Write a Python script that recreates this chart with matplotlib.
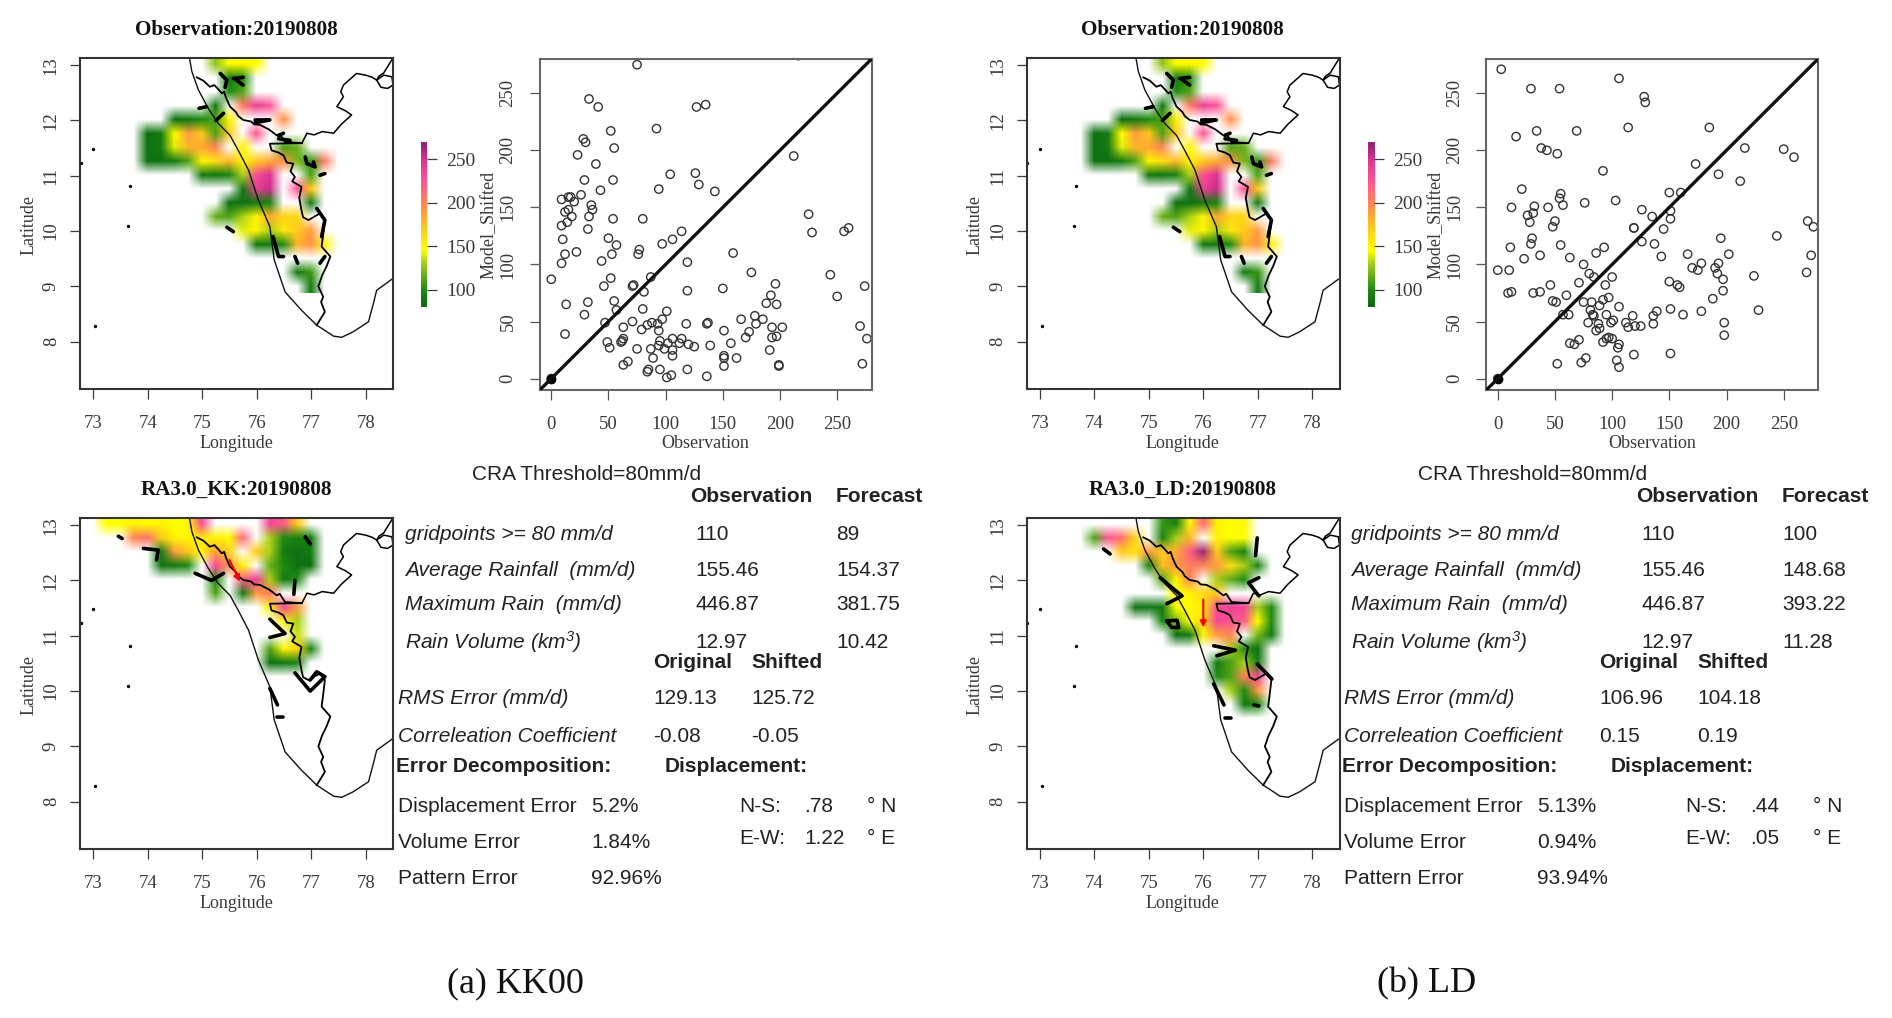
import numpy as np
import matplotlib
matplotlib.use('Agg')
import matplotlib.pyplot as plt
from matplotlib.colors import LinearSegmentedColormap

W, H = 1892, 1018
plt.rcParams['font.family'] = ['Liberation Serif', 'DejaVu Serif']
plt.rcParams['mathtext.default'] = 'regular'

lon_ticks = [73, 74, 75, 76, 77, 78]
lat_ticks = [8, 9, 10, 11, 12, 13]
scatter_ticks = [0, 50, 100, 150, 200, 250]
cbar_ticks = [100, 150, 200, 250]

# rainfall blobs, each row is (lat, first lon, values every 0.25 deg)
n = None
obs_rows = [
 (13.0, 75.25, [125, 145, 148, 145]),
 (12.75, 75.5, [90, 100]),
 (12.5, 75.5, [100, 112]),
 (12.25, 75.25, [90, n, 205, 240, 225]),
 (12.0, 74.5, [85, 90, 100, 110, 150, n, n, n, 195]),
 (11.75, 74.0, [85, 90, 145, 190, 170, 110, 170, n, 225]),
 (11.5, 74.0, [85, 90, 140, 180, 185, 200, n, 150, n, n, 110, 115]),
 (11.25, 74.0, [85, 85, 90, 110, 150, 160, 180, 150, 170, 185, 195, 120, 105, 205]),
 (11.0, 75.0, [90, 88, 95, 130, 230, 250, n, n, 110]),
 (10.75, 75.75, [90, 240, 255, n, 225, 170]),
 (10.5, 75.5, [85, 85, 90, 95, n, n, 90]),
 (10.25, 75.25, [115, 110, 130, 150, 185, 165, 165]),
 (10.0, 75.75, [140, 150, 130, 155, 170, 190]),
 (9.75, 76.0, [90, 90, 100, 180, 195, 150]),
 (9.25, 76.75, [90, 105]),
 (9.0, 77.0, [90]),
]
kk_rows = [
 (13.0, 73.25, [145, 145, 150, 145, 150, 145, 148, 230, n, n, n, n, 235, 220, 170]),
 (12.75, 73.75, [200, 210, 170, 150, 150, 155, 150, 148, 215, n, 130, 100, 95, 90]),
 (12.5, 74.25, [90, 190, 170, 150, 190, 165, n, 170, 130, 90, 85, 90]),
 (12.25, 74.25, [88, 90, 100, n, 230, 195, 150, n, 115, 100, 85, 85]),
 (12.0, 75.25, [100, n, 220, 240, 130, 90, 100]),
 (11.75, 75.25, [110, n, 90, 190, 205]),
 (11.5, 76.25, [150, 235, 190]),
 (11.25, 76.5, [150, 130]),
 (11.0, 76.75, [135]),
 (10.75, 76.25, [110, 150, 165, 95]),
 (10.5, 76.25, [85, 88, 95]),
]
ld_rows = [
 (13.0, 75.25, [105, 95, 150, 215, 150, 145, 148]),
 (12.75, 74.0, [110, 225, 210, 165, n, 95, 130, 180, n, 150, 145, 145]),
 (12.5, 74.5, [170, 160, 190, 170, 185, 220, 265, 170, 110, 95]),
 (12.25, 75.0, [95, 175, 190, 205, 200, 190, 160, 130, 95]),
 (12.0, 75.25, [110, 150, 200, n, 130, 115, 100]),
 (11.75, 75.5, [145, 150, 165, 170]),
 (11.5, 74.75, [85, 88, 90, 145, 148, 150, 230, 240, 235, 130, 100]),
 (11.25, 75.25, [95, 120, 145, 165, 235, 225, 220, 145, 100]),
 (11.0, 75.5, [85, 90, 150, 190, 200, n, 120, 90]),
 (10.75, 76.5, [130, 100, 85]),
 (10.5, 76.25, [90, 110, 130, 90]),
 (10.25, 76.25, [100, 110, 200, 235]),
 (10.0, 76.5, [130, 100, 190]),
 (9.75, 76.75, [90, 100]),
]

coast_lon = [74.77, 74.81, 74.93, 75.11, 75.29, 75.51, 75.66, 75.85, 76.03, 76.24, 76.32, 76.52, 76.82, 77.10, 77.41, 77.56, 77.77, 78.05, 78.14, 78.20, 78.48]
coast_lat = [13.10, 12.88, 12.55, 12.22, 11.95, 11.73, 11.46, 11.10, 10.56, 10.08, 9.48, 8.90, 8.57, 8.30, 8.10, 8.08, 8.18, 8.36, 8.69, 8.93, 9.13]
border_lon = [74.90, 75.02, 75.14, 75.22, 75.28, 75.36, 75.40, 75.44, 75.51, 75.62, 75.66, 75.75, 75.90, 75.95, 76.06, 76.16, 76.22, 76.37, 76.42, 76.52, 76.83, 76.24, 76.27, 76.40, 76.49, 76.55, 76.67, 76.62, 76.70, 76.65, 76.82, 76.78, 76.82, 76.85, 76.95, 77.16, 77.25, 77.22, 77.19, 77.35, 77.28, 77.20, 77.13, 77.22, 77.18, 77.25, 77.10]
border_lat = [12.78, 12.72, 12.61, 12.64, 12.58, 12.49, 12.52, 12.40, 12.25, 12.15, 12.08, 12.01, 11.98, 11.93, 11.92, 11.87, 11.84, 11.73, 11.76, 11.61, 11.59, 11.58, 11.46, 11.42, 11.37, 11.24, 11.22, 11.08, 10.98, 10.90, 10.80, 10.60, 10.38, 10.25, 10.20, 10.32, 10.20, 9.95, 9.72, 9.54, 9.36, 9.20, 9.00, 8.81, 8.72, 8.54, 8.30]
tn_lon = [76.83, 76.92, 77.05, 77.20, 77.41, 77.55, 77.74, 77.62, 77.47, 77.59, 77.54, 77.59, 77.83, 78.00, 78.12, 78.20, 78.33, 78.48, 78.50, 78.40, 78.28, 78.20, 78.24, 78.33, 78.48]
tn_lat = [11.59, 11.77, 11.74, 11.80, 11.77, 11.93, 12.10, 12.18, 12.25, 12.43, 12.52, 12.64, 12.85, 12.82, 12.78, 12.73, 12.82, 12.79, 12.64, 12.58, 12.60, 12.73, 12.80, 12.86, 13.10]
island_lon = [73.0, 73.67, 73.63, 73.04, 72.77]
island_lat = [11.48, 10.81, 10.09, 8.28, 11.24]

# thick contour pieces on each map
obs_pieces = [
 [(75.33, 12.85), (75.45, 12.73), (75.42, 12.60)],
 [(75.57, 12.76), (75.75, 12.78)],
 [(75.60, 12.75), (75.75, 12.64)],
 [(74.94, 12.22), (75.08, 12.25)],
 [(75.97, 12.01), (76.24, 12.01), (75.97, 11.96)],
 [(76.40, 11.73), (76.49, 11.77)],
 [(76.40, 11.67), (76.61, 11.64)],
 [(76.89, 11.34), (76.92, 11.22), (77.07, 11.16), (77.04, 11.25)],
 [(77.16, 11.01), (77.25, 11.04)],
 [(75.45, 10.07), (75.57, 9.99)],
 [(76.70, 9.54), (76.75, 9.42)],
 [(77.10, 10.41), (77.25, 10.20), (77.19, 9.90)],
 [(77.16, 9.42), (77.25, 9.54)],
 [(75.25, 12.0), (75.39, 12.13)],
 [(76.30, 9.90), (76.40, 9.54), (76.49, 9.54)],
]
kk_pieces = [
 [(73.46, 12.80), (73.53, 12.76)],
 [(73.92, 12.58), (74.19, 12.55), (74.16, 12.37)],
 [(74.87, 12.13), (75.17, 12.0), (75.39, 12.13)],
 [(76.70, 12.0), (76.68, 11.75)],
 [(76.89, 12.79), (76.98, 12.66)],
 [(76.24, 11.30), (76.52, 11.04), (76.24, 10.97)],
 [(76.70, 10.33), (76.98, 10.0), (77.25, 10.26), (77.10, 10.35), (76.98, 10.2)],
 [(76.24, 10.05), (76.38, 9.75)],
 [(76.38, 9.54), (76.49, 9.54)],
]
ld_pieces = [
 [(74.17, 12.57), (74.29, 12.48)],
 [(75.21, 12.05), (75.61, 11.72), (75.33, 11.58)],
 [(75.33, 11.27), (75.52, 11.28), (75.55, 11.15), (75.42, 11.15), (75.33, 11.27)],
 [(76.19, 10.82), (76.59, 10.74), (76.25, 10.64)],
 [(76.99, 10.49), (77.26, 10.22)],
 [(76.99, 12.77), (76.96, 12.45)],
 [(77.02, 12.05), (76.83, 11.96), (77.02, 11.72)],
 [(76.93, 9.75), (77.02, 9.73)],
 [(76.19, 10.13), (76.38, 9.75)],
 [(76.40, 9.52), (76.50, 9.52)],
]
kk_arrow = [(75.50, 12.37), (75.69, 11.98)]
ld_arrow = [(76.0, 11.66), (76.0, 11.15)]

obs_kk = [75,33,41,127,135,92,52,28,30,55,23,39,212,104,126,129,29,54,43,94,143,9,15,17,26,20,35,12,15,36,33,18,14,9,54,80,32,10,50,57,114,106,97,225,228,256,260,22,12,9,53,44,77,76,119,159,0,52,46,72,71,87,81,119,150,175,196,244,274,250,192,188,197,13,32,55,57,29,80,101,97,47,71,63,88,84,79,93,94,118,137,136,166,178,185,179,151,173,170,193,202,193,197,270,276,12,49,51,63,61,62,75,87,95,94,99,102,106,106,112,114,120,125,139,157,89,106,151,151,151,162,191,199,199,272,67,63,85,84,95,119,101,105,136,0,216]
mod_kk = [275,245,238,238,240,219,217,210,207,202,196,188,195,179,180,170,174,174,165,166,164,157,159,159,161,155,152,146,148,148,142,142,137,134,140,140,131,122,123,117,129,122,118,144,128,129,132,111,109,101,109,103,113,109,102,110,87,88,81,82,81,89,76,77,79,93,83,91,81,72,73,66,65,65,67,68,60,56,61,59,52,49,50,45,49,47,43,48,42,48,49,48,52,55,52,48,42,41,36,45,45,36,37,46,35,39,32,27,35,32,33,26,26,33,29,26,31,35,25,31,35,30,28,29,31,18,20,20,18,11,18,25,12,11,13,15,12,8,6,8,8,1,3,2,0,283]
obs_ld = [3,106,128,129,29,54,114,185,34,69,16,38,43,52,216,250,259,173,92,193,212,21,55,54,57,32,12,44,76,103,150,160,31,26,126,135,151,151,50,28,48,119,119,145,271,276,244,195,30,29,55,126,137,93,11,86,37,23,63,143,166,202,274,75,178,170,175,193,190,192,0,10,80,84,100,224,270,197,150,71,46,94,157,159,9,12,31,37,197,60,188,48,51,97,92,75,82,89,106,81,151,228,139,178,83,84,57,62,95,118,136,162,101,99,79,88,112,198,136,114,120,125,89,86,198,97,100,95,92,71,63,67,106,105,77,73,52,104,106,119,151,0]
mod_ld = [271,263,247,242,254,254,220,220,217,217,212,202,200,197,202,201,194,188,182,179,173,166,162,158,152,151,150,150,154,156,163,163,145,143,148,142,147,140,138,137,133,132,132,131,138,133,125,123,123,118,117,120,118,115,115,110,108,105,106,107,109,109,108,100,101,97,95,101,97,92,95,95,92,89,89,90,93,87,85,84,82,82,82,80,75,76,75,76,77,73,70,68,67,71,69,67,67,64,63,60,61,60,59,59,56,55,56,56,56,55,55,56,51,49,49,48,49,49,48,45,46,46,44,42,38,36,35,35,32,34,31,30,30,27,18,14,13,16,10,21,22,0]

# table texts
threshold_text = 'CRA Threshold=80mm/d'
stat_names = ['gridpoints >= 80 mm/d', 'Average Rainfall  (mm/d)', 'Maximum Rain  (mm/d)', 'Rain Volume (km$^{3}$)']
stat_obs = ['110', '155.46', '446.87', '12.97']
stat_kk = ['89', '154.37', '381.75', '10.42']
stat_ld = ['100', '148.68', '393.22', '11.28']
err_names = ['RMS Error (mm/d)', 'Correleation Coefficient']
err_orig_kk = ['129.13', '-0.08']
err_shift_kk = ['125.72', '-0.05']
err_orig_ld = ['106.96', '0.15']
err_shift_ld = ['104.18', '0.19']
dec_names = ['Displacement Error', 'Volume Error', 'Pattern Error']
dec_kk = ['5.2%', '1.84%', '92.96%']
dec_ld = ['5.13%', '0.94%', '93.94%']
disp_kk = ['.78', '1.22']
disp_ld = ['.44', '.05']

rain_cmap = LinearSegmentedColormap.from_list('rain', [
 (0.0, '#0a6a12'), (0.1, '#1f8a12'), (0.25, '#9cc81e'), (0.34, '#ffff00'),
 (0.5, '#ffc020'), (0.62, '#ff8a50'), (0.78, '#ff4f9a'), (0.9, '#d9338f'), (1.0, '#8c2470')])
rain_cmap.set_bad('white')
grey = '#3a3a3a'

fig = plt.figure(figsize=(W/100, H/100), dpi=100)


def new_axes(x0, y0, x1, y1):
    return fig.add_axes([x0/W, 1-y1/H, (x1-x0)/W, (y1-y0)/H])


def put(x, y, s, size=15, **kw):
    kw.setdefault('family', 'Liberation Sans')
    kw.setdefault('color', '#222222')
    fig.text(x/W, 1-y/H, s, fontsize=size, va='center', **kw)


def rows_to_grid(rows):
    lons = np.arange(73.0, 77.51, 0.25)
    lats = np.arange(13.0, 8.99, -0.25)
    grid = np.full((len(lats), len(lons)), np.nan)
    for lat, first, vals in rows:
        j = int(round((13.0-lat)/0.25))
        i0 = int(round((first-73.0)/0.25))
        for i, v in enumerate(vals):
            if v is not None:
                grid[j, i0+i] = v
    return grid, [lons[0]-0.125, lons[-1]+0.125, lats[-1]-0.125, lats[0]+0.125]


def draw_map(x0, y0, title, rows, pieces, arrow=None):
    ax = new_axes(x0, y0, x0+313, y0+331)
    grid, extent = rows_to_grid(rows)
    ax.imshow(grid, extent=extent, cmap=rain_cmap, vmin=80, vmax=270, aspect='auto',
              interpolation='bilinear', interpolation_stage='rgba')
    ax.plot(coast_lon, coast_lat, color='#111111', lw=1.0)
    ax.plot(border_lon, border_lat, color='black', lw=1.3)
    ax.plot(tn_lon, tn_lat, color='black', lw=1.1)
    ax.plot(island_lon, island_lat, ls='none', marker='o', ms=1.4, color='black')
    for p in pieces:
        ax.plot([q[0] for q in p], [q[1] for q in p], color='black', lw=2.6, solid_capstyle='round')
    if arrow:
        ax.annotate('', xy=arrow[1], xytext=arrow[0], arrowprops=dict(arrowstyle='-|>', color='red', lw=1.5, mutation_scale=9, shrinkA=0, shrinkB=0))
    ax.set_xlim(72.756, 78.5)
    ax.set_ylim(7.145, 13.13)
    ax.set_xticks(lon_ticks)
    ax.set_yticks(lat_ticks)
    ax.set_yticklabels(lat_ticks, rotation=90, va='center')
    ax.tick_params(length=7.5, width=0.9, color=grey, labelsize=13.5, labelcolor=grey, pad=7)
    ax.tick_params(axis='x', pad=11)
    for s in ax.spines.values():
        s.set_linewidth(1.5)
        s.set_color('#333333')
    put(x0+156, y0+385, 'Longitude', size=13, family='Liberation Serif', color=grey, ha='center')
    put(x0-51, y0+167, 'Latitude', size=13, family='Liberation Serif', color=grey, ha='center', rotation=90)
    put(x0+156, y0-28, title, size=15.2, family='Liberation Serif', weight='bold', color='#111111', ha='center')
    return ax


def draw_scatter(x0, xs, ys):
    ax = new_axes(x0, 59, x0+332, 390)
    ax.scatter(xs, ys, s=36, facecolors='none', edgecolors='#333333', linewidths=1.0, zorder=2)
    # the many dry points pile up at the origin into a solid blob
    ax.scatter([0], [0], s=36, color='black', zorder=2)
    ax.plot([-11, 281], [-11, 281], color='#111111', lw=2.4, zorder=3)
    ax.set_xlim(-10.3, 280)
    ax.set_ylim(-10, 280)
    ax.set_xticks(scatter_ticks)
    ax.set_yticks(scatter_ticks)
    ax.set_yticklabels(scatter_ticks, rotation=90, va='center')
    ax.tick_params(length=7.5, width=0.9, color='#555555', labelsize=13.5, labelcolor=grey, pad=9)
    ax.tick_params(axis='x', pad=11)
    for s in ax.spines.values():
        s.set_linewidth(1.5)
        s.set_color('#666666')
    put(x0+166, 444, 'Observation', size=13, family='Liberation Serif', color=grey, ha='center')
    put(x0-50, 225, 'Model_Shifted', size=13, family='Liberation Serif', color=grey, ha='center', rotation=90)


def draw_cbar(x0):
    ax = new_axes(x0, 142, x0+6, 307)
    vals = np.linspace(270, 80, 100).reshape(-1, 1)
    ax.imshow(vals, extent=[0, 1, 80, 270], cmap=rain_cmap, vmin=80, vmax=270, aspect='auto')
    ax.set_xticks([])
    ax.yaxis.tick_right()
    ax.set_yticks(cbar_ticks)
    ax.tick_params(length=7.5, width=0.9, color=grey, labelsize=14, labelcolor=grey, pad=6)
    for s in ax.spines.values():
        s.set_visible(False)


def draw_table(dx, stat_fc, e_orig, e_shift, dec, disp):
    put(472+dx, 475, threshold_text)
    put(690+dx, 497, 'Observation', weight='bold')
    put(836+dx, 497, 'Forecast', weight='bold')
    for y, name, a, b in zip([534, 570, 605, 642], stat_names, stat_obs, stat_fc):
        put(405+dx, y, name, style='italic')
        put(695+dx, y, a)
        put(836+dx, y, b)
    put(653+dx, 663, 'Original', weight='bold')
    put(751+dx, 663, 'Shifted', weight='bold')
    for y, name, a, b in zip([698, 736], err_names, e_orig, e_shift):
        put(398+dx, y, name, style='italic')
        put(653+dx, y, a)
        put(751+dx, y, b)
    put(396+dx, 767, 'Error Decomposition:', weight='bold')
    put(665+dx, 766, 'Displacement:', weight='bold')
    for y, name, a in zip([807, 843, 879], dec_names, dec):
        put(398+dx, y, name)
        put(591+dx, y, a)
    for y, name, a, unit in zip([806, 839], ['N-S:', 'E-W:'], disp, ['° N', '° E']):
        put(739+dx, y, name)
        put(804+dx, y, a)
        put(867+dx, y, unit)


draw_map(80, 58, 'Observation:20190808', obs_rows, obs_pieces)
draw_map(80, 518, 'RA3.0_KK:20190808', kk_rows, kk_pieces, kk_arrow)
draw_map(1026.5, 58, 'Observation:20190808', obs_rows, obs_pieces)
draw_map(1026.5, 518, 'RA3.0_LD:20190808', ld_rows, ld_pieces, ld_arrow)
draw_scatter(539.5, obs_kk, mod_kk)
draw_scatter(1486, obs_ld, mod_ld)
draw_cbar(421)
draw_cbar(1368)
draw_table(0, stat_kk, err_orig_kk, err_shift_kk, dec_kk, disp_kk)
draw_table(946, stat_ld, err_orig_ld, err_shift_ld, dec_ld, disp_ld)

put(515, 984, '(a) KK00', size=26, family='Liberation Serif', color='#111111', ha='center')
put(1427, 984, '(b) LD', size=26, family='Liberation Serif', color='#111111', ha='center')

fig.savefig('out.png', dpi=100)
